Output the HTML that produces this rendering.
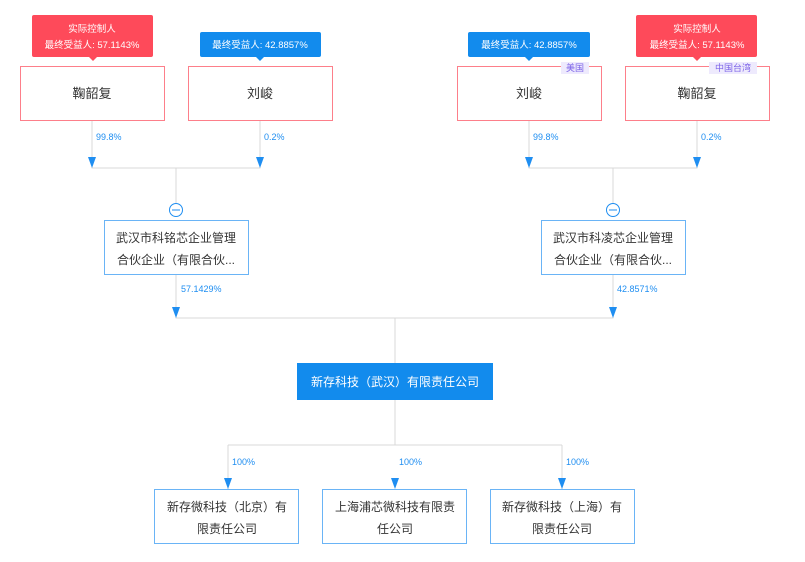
<!DOCTYPE html>
<html><head><meta charset="utf-8"><style>
body{margin:0;width:805px;height:557px;overflow:hidden;background:#fff;font-family:"Liberation Sans","Noto Sans CJK SC",sans-serif}
svg text{font-family:"Liberation Sans","Noto Sans CJK SC",sans-serif}
</style></head><body>
<svg width="805" height="557" viewBox="0 0 805 557" xmlns="http://www.w3.org/2000/svg">
<defs><marker id="a" viewBox="0 0 10 10" refX="5" refY="10" markerWidth="7" markerHeight="11" orient="auto"/></defs>
<g fill="none" stroke="#d9d9d9" stroke-width="1">
<path d="M92 120V168H260V120M176 168V203"/>
<path d="M529 120V168H697V120M613 168V203"/>
<path d="M176 275V318H613V275M395 318V363"/>
<path d="M395 400V445M228 445H562M228 445V489M562 445V489"/>
</g>
<g fill="#1f8ef1">
<path d="M88 157h8l-4 11z"/><path d="M256 157h8l-4 11z"/>
<path d="M525 157h8l-4 11z"/><path d="M693 157h8l-4 11z"/>
<path d="M172 307h8l-4 11z"/><path d="M609 307h8l-4 11z"/>
<path d="M224 478h8l-4 11z"/><path d="M391 478h8l-4 11z"/><path d="M558 478h8l-4 11z"/>
</g>
<g font-size="9" fill="#1f8ef1">
<text x="96" y="140">99.8%</text><text x="264" y="140">0.2%</text>
<text x="533" y="140">99.8%</text><text x="701" y="140">0.2%</text>
<text x="181" y="292">57.1429%</text><text x="617" y="292">42.8571%</text>
<text x="232" y="465">100%</text><text x="399" y="465">100%</text><text x="566" y="465">100%</text>
</g>
<!-- tags -->
<rect x="32" y="15" width="121" height="42" rx="2" fill="#fe4a5a"/><path d="M89 57h8l-4 4z" fill="#fe4a5a"/>
<text x="92" y="32" font-size="9.5" fill="#fff" text-anchor="middle">实际控制人</text>
<text x="92" y="48" font-size="9.5" fill="#fff" text-anchor="middle">最终受益人: 57.1143%</text>
<rect x="200" y="32" width="121" height="25" rx="2" fill="#128bed"/><path d="M256 57h8l-4 4z" fill="#128bed"/>
<text x="260" y="48" font-size="9.5" fill="#fff" text-anchor="middle">最终受益人: 42.8857%</text>
<rect x="468" y="32" width="122" height="25" rx="2" fill="#128bed"/><path d="M525 57h8l-4 4z" fill="#128bed"/>
<text x="529" y="48" font-size="9.5" fill="#fff" text-anchor="middle">最终受益人: 42.8857%</text>
<rect x="636" y="15" width="121" height="42" rx="2" fill="#fe4a5a"/><path d="M693 57h8l-4 4z" fill="#fe4a5a"/>
<text x="697" y="32" font-size="9.5" fill="#fff" text-anchor="middle">实际控制人</text>
<text x="697" y="48" font-size="9.5" fill="#fff" text-anchor="middle">最终受益人: 57.1143%</text>
<!-- person boxes -->
<g fill="#fff" stroke="#fd7f8a" stroke-width="1">
<rect x="20.5" y="66.5" width="144" height="54"/><rect x="188.5" y="66.5" width="144" height="54"/>
<rect x="457.5" y="66.5" width="144" height="54"/><rect x="625.5" y="66.5" width="144" height="54"/>
</g>
<rect x="561" y="62" width="28" height="12" fill="#eeeafd"/><text x="575" y="71" font-size="9" fill="#7d64e8" text-anchor="middle">美国</text>
<rect x="709" y="62" width="48" height="12" fill="#eeeafd"/><text x="733" y="71" font-size="9" fill="#7d64e8" text-anchor="middle">中国台湾</text>
<g font-size="13" fill="#333" text-anchor="middle">
<text x="92" y="98">鞠韶复</text><text x="260" y="98">刘峻</text>
<text x="529" y="98">刘峻</text><text x="697" y="98">鞠韶复</text>
</g>
<!-- partnerships -->
<g fill="#fff" stroke="#6ab4f6"><rect x="104.5" y="220.5" width="144" height="54"/><rect x="541.5" y="220.5" width="144" height="54"/>
<circle cx="176" cy="210" r="6.5" stroke="#1f8ef1"/><circle cx="613" cy="210" r="6.5" stroke="#1f8ef1"/></g>
<path d="M172 210h8M609 210h8" stroke="#1f8ef1"/>
<g font-size="12" fill="#333" text-anchor="middle">
<text x="176" y="242">武汉市科铭芯企业管理</text><text x="176" y="264">合伙企业（有限合伙...</text>
<text x="613" y="242">武汉市科凌芯企业管理</text><text x="613" y="264">合伙企业（有限合伙...</text>
</g>
<rect x="297" y="363" width="196" height="37" fill="#128bed"/>
<text x="395" y="386" font-size="12" fill="#fff" text-anchor="middle">新存科技（武汉）有限责任公司</text>
<g fill="#fff" stroke="#6ab4f6"><rect x="154.5" y="489.5" width="144" height="54"/><rect x="322.5" y="489.5" width="144" height="54"/><rect x="490.5" y="489.5" width="144" height="54"/></g>
<g font-size="12" fill="#333" text-anchor="middle">
<text x="227" y="511">新存微科技（北京）有</text><text x="227" y="533">限责任公司</text>
<text x="395" y="511">上海浦芯微科技有限责</text><text x="395" y="533">任公司</text>
<text x="562" y="511">新存微科技（上海）有</text><text x="562" y="533">限责任公司</text>
</g>
</svg>
</body></html>
